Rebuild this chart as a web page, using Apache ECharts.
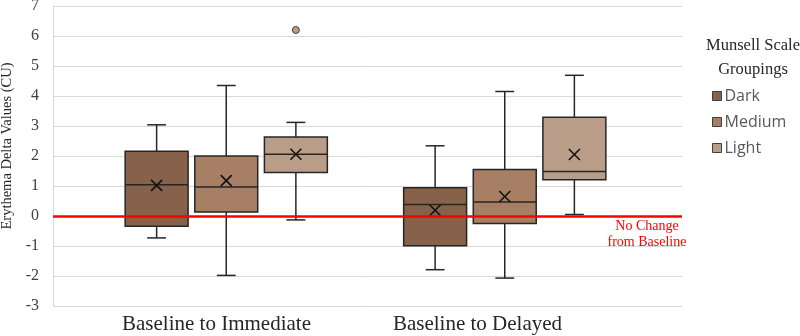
<!DOCTYPE html>
<html>
<head>
<meta charset="utf-8">
<script src="https://cdn.jsdelivr.net/npm/echarts/dist/echarts.min.js"></script>
<style>html,body{margin:0;padding:0;background:#fff}#chart{width:800px;height:336px}</style>
</head>
<body>
<div id="chart"></div>
<script>
// 类别与分组
const categories = ['Baseline to Immediate', 'Baseline to Delayed'];
const groupNames = ['Dark', 'Medium', 'Light'];
const groupColors = ['#87614a', '#a67f65', '#b99d89'];

// 每行：[类别序号, 下须, Q1, 中位数, Q3, 上须, 均值]
const darkData = [
    [0, -0.73, -0.34, 1.04, 2.16, 3.04, 1.02],
    [1, -1.79, -0.99, 0.38, 0.94, 2.34, 0.19]
];
const mediumData = [
    [0, -1.98, 0.13, 0.97, 2.00, 4.35, 1.18],
    [1, -2.07, -0.25, 0.47, 1.55, 4.15, 0.65]
];
const lightData = [
    [0, -0.13, 1.45, 2.06, 2.63, 3.12, 2.06],
    [1, 0.05, 1.21, 1.48, 3.29, 4.69, 2.05]
];
// 离群点 [类别序号, 值]
const lightOutliers = [[0, 6.2]];

// y 轴刻度
const yMin = -3;
const yMax = 7;
const yStep = 1;
const baselineValue = 0;

let chart = echarts.init(document.getElementById('chart'));

const serif = 'Liberation Serif';
const boxGridLeft = 87;
const boxGridWidth = 557;
const boxBand = boxGridWidth / categories.length;

function makeRender(slot) {
    return function (params, api) {
        const cat = api.value(0);
        const band = api.size([1, 0])[0];
        const boxW = band * 0.226;
        const half = boxW / 2;
        const cap = boxW * 0.15;
        const cx = api.coord([cat, 0])[0] + (slot - 1) * band * 0.25;
        const pLow = api.coord([cat, api.value(1)])[1];
        const pQ1 = api.coord([cat, api.value(2)])[1];
        const pMed = api.coord([cat, api.value(3)])[1];
        const pQ3 = api.coord([cat, api.value(4)])[1];
        const pHigh = api.coord([cat, api.value(5)])[1];
        const pMean = api.coord([cat, api.value(6)])[1];
        const ls = {stroke: '#262626', lineWidth: 1.5};
        const xs = 5.5;
        return {
            type: 'group',
            children: [
                {type: 'line', shape: {x1: cx, y1: pHigh, x2: cx, y2: pQ3}, style: ls},
                {type: 'line', shape: {x1: cx, y1: pQ1, x2: cx, y2: pLow}, style: ls},
                {type: 'line', shape: {x1: cx - cap, y1: pHigh, x2: cx + cap, y2: pHigh}, style: ls},
                {type: 'line', shape: {x1: cx - cap, y1: pLow, x2: cx + cap, y2: pLow}, style: ls},
                {type: 'rect', shape: {x: cx - half, y: pQ3, width: boxW, height: pQ1 - pQ3},
                    style: {fill: api.visual('color'), stroke: '#262626', lineWidth: 1.5}},
                {type: 'line', shape: {x1: cx - half, y1: pMed, x2: cx + half, y2: pMed}, style: ls},
                {type: 'line', shape: {x1: cx - xs, y1: pMean - xs, x2: cx + xs, y2: pMean + xs}, style: {stroke: '#111', lineWidth: 1.6}},
                {type: 'line', shape: {x1: cx - xs, y1: pMean + xs, x2: cx + xs, y2: pMean - xs}, style: {stroke: '#111', lineWidth: 1.6}}
            ]
        };
    };
}

const boxSets = [darkData, mediumData, lightData];

let series = [
    {
        name: 'baseline',
        type: 'line',
        xAxisIndex: 0,
        yAxisIndex: 0,
        data: [],
        z: 1,
        markLine: {
            silent: true,
            symbol: 'none',
            animation: false,
            data: [{yAxis: baselineValue}],
            lineStyle: {color: '#ff0000', width: 2.5, type: 'solid'},
            label: {
                formatter: 'No Change\nfrom Baseline',
                position: 'insideEndBottom',
                distance: [35, 2],
                color: '#ff0000',
                fontFamily: serif,
                fontSize: 14,
                lineHeight: 16,
                align: 'center'
            }
        }
    }
];

boxSets.forEach(function (d, i) {
    series.push({
        name: groupNames[i],
        type: 'custom',
        xAxisIndex: 2,
        yAxisIndex: 2,
        z: 3,
        itemStyle: {color: groupColors[i]},
        encode: {x: 0, y: [1, 2, 3, 4, 5, 6]},
        renderItem: makeRender(i),
        data: d,
        animation: false
    });
});

series.push({
    name: 'Light',
    type: 'scatter',
    xAxisIndex: 2,
    yAxisIndex: 2,
    z: 4,
    symbolSize: 7,
    symbolOffset: [boxBand * 0.25, 0],
    itemStyle: {color: groupColors[2], borderColor: '#404040', borderWidth: 1, opacity: 1},
    data: lightOutliers,
    animation: false
});

let option = {
    backgroundColor: '#fff',
    animation: false,
    title: {
        text: 'Munsell Scale\nGroupings',
        left: 748,
        top: 29,
        textAlign: 'center',
        textStyle: {fontFamily: serif, fontSize: 16.5, fontWeight: 'normal', color: '#262626', lineHeight: 24}
    },
    legend: {
        data: groupNames,
        orient: 'vertical',
        left: 712,
        top: 88,
        padding: 0,
        itemWidth: 9,
        itemHeight: 9,
        itemGap: 10,
        icon: 'rect',
        itemStyle: {borderColor: '#404040', borderWidth: 1},
        textStyle: {fontFamily: 'Open Sans', fontSize: 16, color: '#595959', padding: [0, 0, 0, -2]}
    },
    grid: [
        {left: 53, right: 118, top: 6, bottom: 30, outerBoundsMode: 'none', containLabel: false},
        {left: 86, width: 522, top: 6, bottom: 30, outerBoundsMode: 'none', containLabel: false},
        {left: boxGridLeft, width: boxGridWidth, top: 6, bottom: 30, outerBoundsMode: 'none', containLabel: false}
    ],
    xAxis: [
        {gridIndex: 0, type: 'value', min: 0, max: 1, show: false},
        {
            gridIndex: 1,
            type: 'category',
            data: categories,
            axisLine: {show: false},
            axisTick: {show: false},
            axisLabel: {fontFamily: serif, fontSize: 21, color: '#262626', margin: 8}
        },
        {gridIndex: 2, type: 'category', data: categories, show: false}
    ],
    yAxis: [
        {
            gridIndex: 0,
            type: 'value',
            min: yMin,
            max: yMax,
            interval: yStep,
            name: 'Erythema Delta Values (CU)',
            nameLocation: 'middle',
            nameGap: 38,
            nameTextStyle: {fontFamily: serif, fontSize: 14.5, color: '#262626', padding: [0, 0, 0, 20]},
            axisLine: {show: true, lineStyle: {color: '#d9d9d9'}},
            axisTick: {show: false},
            axisLabel: {fontFamily: serif, fontSize: 16, color: '#404040', margin: 14},
            splitLine: {lineStyle: {color: '#d9d9d9', width: 1}}
        },
        {gridIndex: 1, type: 'value', min: yMin, max: yMax, show: false},
        {gridIndex: 2, type: 'value', min: yMin, max: yMax, show: false}
    ],
    series: series
};

chart.setOption(option);
</script>
</body>
</html>
